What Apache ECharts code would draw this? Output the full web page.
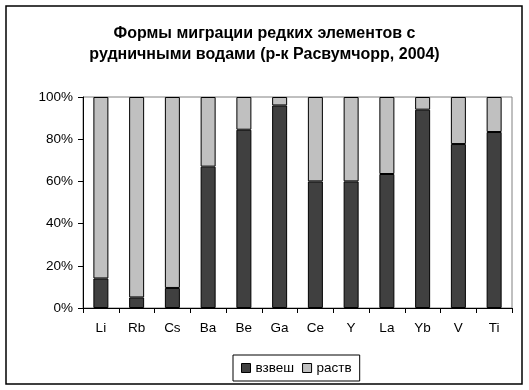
<!DOCTYPE html>
<html><head><meta charset="utf-8">
<script src="https://cdn.jsdelivr.net/npm/echarts@6/dist/echarts.min.js"></script>
<style>html,body{margin:0;padding:0;background:#fff}#c{width:529px;height:390px}</style>
</head><body><div id="c"></div>
<script>
const categories = ['Li','Rb','Cs','Ba','Be','Ga','Ce','Y','La','Yb','V','Ti'];
const vzvesh = [14, 5, 9.5, 67, 84.5, 96, 60, 60, 63.5, 94, 77.7, 83.4];
const rastv = vzvesh.map(v => 100 - v);
const yTicks = [0, 20, 40, 60, 80, 100];
const seriesNames = ['взвеш', 'раств'];

const chart = echarts.init(document.getElementById('c'), null, {renderer:'canvas'});
const font = 'Liberation Sans, Arial, sans-serif';
chart.setOption({
  animation:false,
  textStyle:{fontFamily:font},
  title:{
    text:'Формы миграции редких элементов с\nрудничными водами (р-к Расвумчорр, 2004)',
    left:'center', top:18,
    textStyle:{fontFamily:font, fontSize:16, fontWeight:'bold', color:'#000', lineHeight:21}
  },
  graphic:[{type:'rect', shape:{x:6,y:6,width:516,height:378}, style:{fill:'none', stroke:'#000', lineWidth:1.5}, z:-10}],
  grid:{left:83, right:17, top:97, bottom:82, show:true, borderColor:'#808080', borderWidth:1, containLabel:false},
  legend:{
    top:355, left:233,
    itemWidth:9, itemHeight:9, itemGap:8,
    icon:'rect',
    padding:[6,8,6,8],
    borderColor:'#000', borderWidth:1,
    textStyle:{fontFamily:font, fontSize:13.5, color:'#000'},
    data:seriesNames.map(n=>({name:n, itemStyle:{borderColor:'#000', borderWidth:1}}))
  },
  xAxis:{
    type:'category', data:categories,
    axisLine:{lineStyle:{color:'#000'}},
    axisTick:{show:true, length:5, lineStyle:{color:'#000'}},
    axisLabel:{color:'#000', fontSize:13.5, margin:13, fontFamily:font}
  },
  yAxis:{
    type:'value', min:0, max:100, interval:20,
    axisLine:{show:true, lineStyle:{color:'#000'}},
    axisTick:{show:true, length:5, lineStyle:{color:'#000'}},
    splitLine:{show:false},
    axisLabel:{color:'#000', fontSize:13.5, margin:10, fontFamily:font, formatter:v=> yTicks.includes(v) ? v+'%' : ''}
  },
  series:[
    {name:seriesNames[0], type:'bar', stack:'s', data:vzvesh, barWidth:15,
     itemStyle:{color:'#404040', borderColor:'#000', borderWidth:1}},
    {name:seriesNames[1], type:'bar', stack:'s', data:rastv, barWidth:15,
     itemStyle:{color:'#c0c0c0', borderColor:'#000', borderWidth:1}}
  ]
});
</script></body></html>
